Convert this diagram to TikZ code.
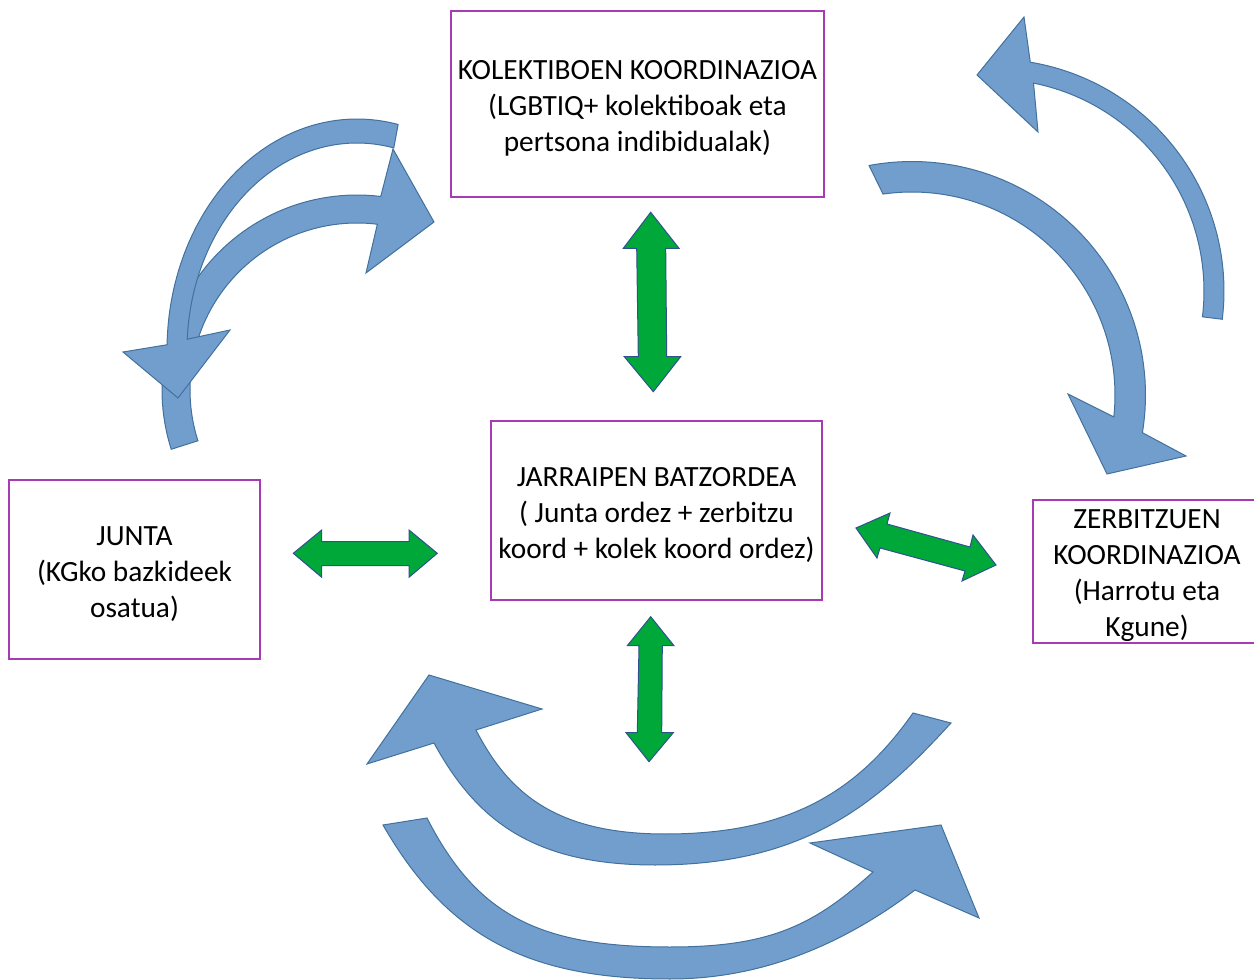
\documentclass[tikz,border=0pt]{standalone}
\usepackage{fontspec}
\setmainfont{Carlito}
\definecolor{bfill}{RGB}{114,158,206}
\definecolor{bline}{RGB}{65,113,156}
\definecolor{gfill}{RGB}{0,168,58}
\definecolor{gline}{RGB}{47,82,143}
\definecolor{boxline}{RGB}{165,60,180}
\newcommand\firstline{\rule{0pt}{21pt}}
\begin{document}
\begin{tikzpicture}[x=0.75pt,y=-0.75pt,
  boxnode/.style={draw=boxline, line width=0.9pt, align=center, font=\fontsize{22}{27}\selectfont, inner sep=0pt},
  barrow/.style={fill=bfill, draw=bline, line width=0.75pt, line join=miter},
  garrow/.style={fill=gfill, draw=gline, line width=0.75pt}]
\useasboundingbox (0,0) rectangle (1254,980);

% boxes
\node[boxnode, minimum width=279.75pt, minimum height=139.5pt] (kol) at (637.5,104) {\firstline KOLEKTIBOEN KOORDINAZIOA\\(LGBTIQ+ kolektiboak eta\\pertsona indibidualak)};
\node[boxnode, minimum width=248.25pt, minimum height=134.25pt] (jar) at (656.5,510.5) {\firstline JARRAIPEN BATZORDEA\\( Junta ordez + zerbitzu\\koord + kolek koord ordez)};
\node[boxnode, minimum width=188.25pt, minimum height=134.25pt] (jun) at (134.5,569.5) {\firstline JUNTA\\(KGko bazkideek\\osatua)};
\node[boxnode, minimum width=171pt, minimum height=107.25pt] (zer) at (1147,571.5) {\firstline ZERBITZUEN\\KOORDINAZIOA\\(Harrotu eta\\Kgune)};

% green double arrows
\path[garrow] (650.7,212.3) -- (679,248.3) -- (665.7,248.3) -- (666.7,356.7) -- (680.7,356.7) -- (653.3,391.7) -- (624.3,356.7) -- (638.3,356.7) -- (636.7,248.3) -- (623.3,248.3) -- cycle;
\path[garrow] (650.7,616.7) -- (674,645.7) -- (662.3,645.7) -- (661.7,732.7) -- (673.3,732.7) -- (649,761.7) -- (626,732.7) -- (637.3,732.7) -- (639,645.7) -- (627.3,645.7) -- cycle;
\path[garrow] (293.3,553.3) -- (321.7,530) -- (321.7,541.7) -- (409,541.7) -- (409,530) -- (437.3,553.3) -- (409,577.3) -- (409,565.7) -- (321.7,565.7) -- (321.7,577.3) -- cycle;
\path[garrow] (856,528) -- (890,513) -- (887,524) -- (970,547) -- (973,535) -- (996,565) -- (962,581) -- (965,571) -- (880,548) -- (877,558) -- cycle;

% blue curved arrows, left pair
\path[barrow] plot[domain=162.3:277, samples=60] ({357+195*cos(\x)},{390+195*sin(\x)}) -- (393,149) -- (434,222) -- (366,273) -- plot[domain=-277:-162.3, samples=60] ({357+167*cos(-\x)},{390+167*sin(-\x)}) -- cycle;
\path[barrow] plot[domain=77.5:178.7, samples=60] ({357+190*cos(-\x)},{350+231*sin(-\x)}) -- (123,352) -- (178,398) -- (230,330) -- plot[domain=-177:-77.5, samples=60] ({357+170*cos(\x)},{350+207*sin(\x)}) -- cycle;

% right pair
\path[barrow] plot[domain=-7:80.5, samples=60] ({992+232*cos(-\x)},{291+232*sin(-\x)}) -- (1024,17) -- (977,75) -- (1038,132) -- plot[domain=-78.7:7, samples=60] ({992+212*cos(\x)},{291+212*sin(\x)}) -- cycle;
\path[barrow] plot[domain=-100.6:9.3, samples=60] ({912+233.5*cos(\x)},{395+233.5*sin(\x)}) -- (1186,456) -- (1107,474) -- (1068,394) -- plot[domain=-6.2:98.2, samples=60] ({912+203*cos(-\x)},{395+203*sin(-\x)}) -- cycle;

% bottom pair
\path[barrow] (951,723) .. controls (876.8,804.2) and (805,865) .. (655,865) .. controls (535,865) and (477,822) .. (434,743) -- (367,764) -- (429,675) -- (542,709) -- (476,730) .. controls (508,792.2) and (555,834) .. (665,834) .. controls (785,834) and (855.7,794.9) .. (913,713) -- cycle;
\path[barrow] (383,825) .. controls (447.7,937.7) and (530,979) .. (670,979) .. controls (770,979) and (851.2,938.2) .. (915,890) -- (979,918) -- (941,825) -- (810,843) -- (873,872) .. controls (813.6,925.6) and (770,947) .. (670,947) .. controls (540,947) and (477,916) .. (427,818) -- cycle;
\end{tikzpicture}
\end{document}
